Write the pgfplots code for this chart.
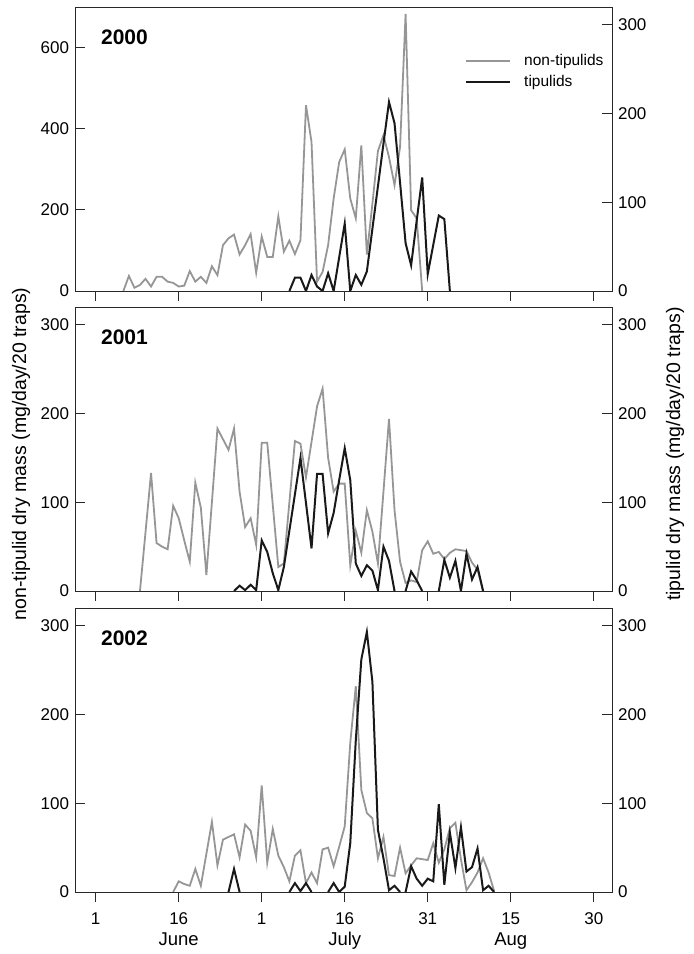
\documentclass[border=0pt]{standalone}
\usepackage{fontspec}
\setmainfont{Liberation Sans}
\usepackage{pgfplots}
\pgfplotsset{compat=1.18}

\definecolor{ntgray}{RGB}{150,150,150}
\definecolor{tipblack}{RGB}{25,25,25}
\definecolor{framecol}{RGB}{40,40,40}
\newcommand{\tickfont}{\fontsize{17}{21}\selectfont}

\pgfplotsset{
  panelbase/.style={scale only axis, width=537pt, height=284pt,
    xmin=-2.74, xmax=94.3, xtick={1,16,31,46,61,76,91},
    major tick length=10pt, unbounded coords=jump,
    axis line style={framecol, line width=0.9pt},
    every tick/.style={framecol, line width=0.9pt},
    tick label style={font=\tickfont, /pgf/number format/assume math mode=true}},
  ntaxis/.style={panelbase, xtick align=outside, ytick align=inside,
    xtick pos=left, ytick pos=left, yticklabel style={xshift=-2.5pt}},
  taxis/.style={panelbase, axis x line=none, axis y line*=right,
    ymin=0, ymax=320, ytick={0,100,200,300}, ytick align=inside,
    yticklabel style={xshift=2.5pt}},
  ntip/.style={ntgray, line width=1.8pt},
  tip/.style={tipblack, line width=2pt},
}
\newcommand{\yearfont}{\fontsize{21}{21}\selectfont\bfseries}
\newcommand{\mon}[1]{{\fontsize{18.5}{21}\selectfont #1}}

\begin{document}
\begin{tikzpicture}
\path[use as bounding box] (0pt,0pt) rectangle (694pt,954pt);

% ---- 2000 ----
\begin{axis}[ntaxis, at={(75pt,663pt)}, anchor=south west,
    ymin=0, ymax=700, ytick={0,200,400,600}, xticklabels={},
    legend style={draw=none, fill=none, at={(0.7263,0.8327)}, anchor=north west,
      font=\fontsize{15.5}{20}\selectfont, inner sep=0pt, row sep=8pt,
      nodes={inner sep=0pt}},
    legend cell align=left,
    legend image code/.code={\draw[#1] (0pt,0pt) -- (44pt,0pt); \path[draw=none] (0pt,0pt) -- (58pt,0pt);}]
  \addlegendimage{ntgray, line width=2pt}
  \addlegendentry{non-tipulids}
  \addlegendimage{tipblack, line width=2pt}
  \addlegendentry{tipulids}
  \addplot[ntip, forget plot] coordinates {(6,0)(7,37)(8,8)(9,15)(10,30)(11,11)(12,35)(13,35)(14,23)(15,20)(16,11)(17,13)(18,49)(19,23)(20,35)(21,20)(22,61)(23,39)(24,113)(25,130)(26,139)(27,90)(28,113)(29,140)(30,45)(31,134)(32,84)(33,84)(34,184)(35,97)(36,124)(37,91)(38,125)(39,458)(40,367)(41,23)(42,47)(43,113)(44,228)(45,318)(46,349)(47,228)(48,179)(49,359)(50,90)(51,215)(52,345)(53,384)(54,330)(55,261)(56,355)(57,683)(58,199)(59,179)(60,0)};
  \node[anchor=west, font=\yearfont] at (rel axis cs:0.042,0.894) {2000};
\end{axis}
\begin{axis}[taxis, at={(75pt,663pt)}, anchor=south west]
  \addplot[tip] coordinates {(36,0)(37,15)(38,15)(39,0)(40,18)(41,5)(42,0)(43,20)(44,0)(45,38)(46,76)(47,0)(48,18)(49,7)(50,22)(51,70)(52,118)(53,166)(54,213)(55,189)(56,122)(57,54)(58,29)(59,79)(60,128)(61,19)(62,52)(63,85)(64,81)(65,0)};
\end{axis}

% ---- 2001 ----
\begin{axis}[ntaxis, at={(75pt,363pt)}, anchor=south west,
    ymin=0, ymax=320, ytick={0,100,200,300}, xticklabels={}]
  \addplot[ntip] coordinates {(9,0)(10,66)(11,133)(12,54)(13,50)(14,47)(15,96)(16,82)(17,57)(18,33)(19,122)(20,94)(21,18)(22,100)(23,183)(24,171)(25,159)(26,183)(27,112)(28,72)(29,82)(30,52)(31,167)(32,167)(33,97)(34,27)(35,31)(36,100)(37,169)(38,166)(39,128)(40,168)(41,208)(42,228)(43,150)(44,112)(45,121)(46,121)(47,29)(48,68)(49,43)(50,91)(51,67)(52,31)(53,112)(54,194)(55,91)(56,33)(57,9)(58,12)(59,10)(60,46)(61,56)(62,42)(63,44)(64,36)(65,43)(66,47)(67,46)(68,45)(69,32)(70,24)(71,0)};
  \node[anchor=west, font=\yearfont] at (rel axis cs:0.042,0.894) {2001};
\end{axis}
\begin{axis}[taxis, at={(75pt,363pt)}, anchor=south west]
  \addplot[tip] coordinates {(26,0)(27,6)(28,1)(29,7)(30,1)(31,57)(32,44)(33,20)(34,1)(35,27)(36,68)(37,109)(38,150)(39,99)(40,48)(41,132)(42,132)(43,65)(44,88)(45,125)(46,161)(47,125)(48,31)(49,17)(50,29)(51,23)(52,1)(53,50)(54,34)(55,0)(56,nan)(57,0)(58,22)(59,12)(60,0)(61,nan)(63,0)(64,35)(65,15)(66,34)(67,0)(68,42)(69,13)(70,27)(71,0)};
\end{axis}

% ---- 2002 ----
\begin{axis}[ntaxis, at={(75pt,62pt)}, anchor=south west,
    ymin=0, ymax=320, ytick={0,100,200,300},
    xticklabels={1,{16\\\mon{June}},1,{16\\\mon{July}},31,{15\\\mon{Aug}},30},
    xticklabel style={align=center, yshift=-7pt}]
  \addplot[ntip] coordinates {(15,0)(16,12)(17,9)(18,7)(19,26)(20,7)(21,43)(22,79)(23,30)(24,59)(25,62)(26,65)(27,39)(28,76)(29,69)(30,39)(31,120)(32,33)(33,71)(34,41)(35,28)(36,12)(37,41)(38,47)(39,10)(40,22)(41,10)(42,48)(43,50)(44,29)(45,51)(46,74)(47,168)(48,232)(49,115)(50,89)(51,83)(52,38)(53,62)(54,19)(55,18)(56,50)(57,21)(58,30)(59,38)(60,37)(61,36)(62,55)(63,33)(64,48)(65,72)(66,78)(67,37)(68,2)(69,11)(70,22)(71,38)(72,22)(73,1)};
  \node[anchor=west, font=\yearfont] at (rel axis cs:0.042,0.894) {2002};
\end{axis}
\begin{axis}[taxis, at={(75pt,62pt)}, anchor=south west]
  \addplot[tip] coordinates {(25,0)(26,26)(27,0)(30,nan)(36,0)(37,10)(38,1)(39,10)(40,0)(41,nan)(43,0)(44,10)(45,0)(46,6)(47,55)(48,171)(49,262)(50,293)(51,237)(52,70)(53,38)(54,2)(55,7)(56,0)(56.5,nan)(57,0)(58,29)(59,15)(60,7)(61,15)(62,12)(63,99)(64,8)(65,67)(66,27)(67,73)(68,23)(69,28)(70,49)(71,2)(72,7)(73,0)};
\end{axis}

\node[rotate=90, font=\fontsize{19.5}{20}\selectfont] at (21pt,500pt) {non-tipulid dry mass (mg/day/20 traps)};
\node[rotate=90, font=\fontsize{19.5}{20}\selectfont] at (675pt,500pt) {tipulid dry mass (mg/day/20 traps)};
\end{tikzpicture}
\end{document}
